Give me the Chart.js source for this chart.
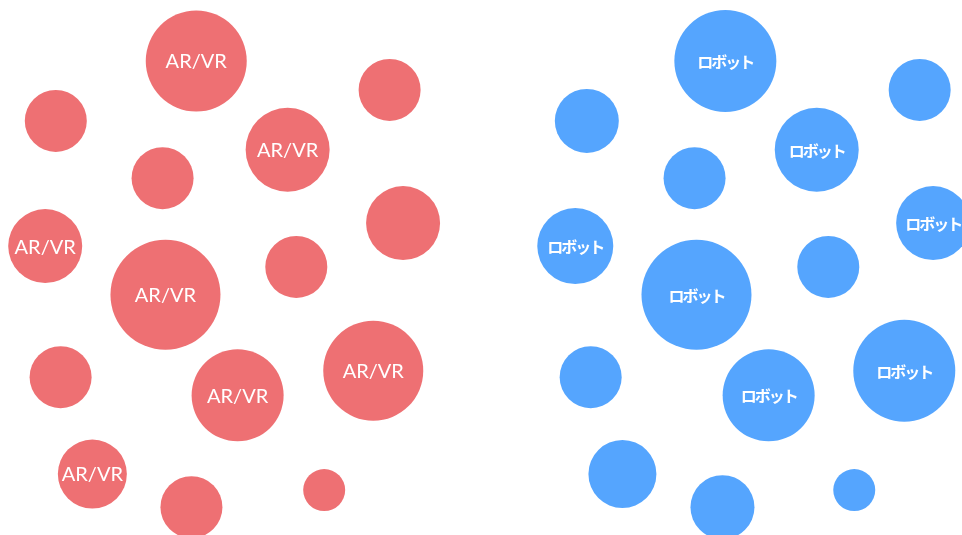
<!DOCTYPE html>
<html>
<head>
<meta charset="utf-8">
<script src="https://cdn.jsdelivr.net/npm/chart.js@4/dist/chart.umd.min.js"></script>
<style>
  html, body { margin: 0; padding: 0; background: #fff; }
  #wrap { width: 962px; height: 535px; }
</style>
</head>
<body>
<div id="wrap"><canvas id="myChart"></canvas></div>
<script>
// AR/VR cluster
var arvrX = [20.4, 40.5, 5.8, 29.9, 16.9, 41.9, 4.7, 30.8, 17.2, 38.8, 6.3, 24.7, 9.6, 19.9, 33.7];
var arvrY = [88.6, 83.2, 77.4, 72.0, 66.7, 58.3, 54.0, 50.1, 44.9, 30.7, 29.5, 26.1, 11.4, 5.2, 8.4];
var arvrR = [50.5, 31, 31, 42, 31, 37, 37, 31, 55, 50, 31, 46, 34.5, 31, 21];
var arvrShow = [1, 0, 0, 1, 0, 0, 1, 0, 1, 1, 0, 1, 1, 0, 0];

// robot cluster
var robotX = [75.4, 95.6, 61.0, 84.9, 72.2, 97.0, 59.8, 86.1, 72.4, 94.0, 61.4, 79.9, 64.7, 75.1, 88.8];
var robotY = [88.6, 83.2, 77.4, 72.0, 66.7, 58.3, 54.0, 50.1, 44.9, 30.7, 29.5, 26.1, 11.4, 5.2, 8.4];
var robotR = [51, 31, 32, 42, 31, 37, 38, 31, 55, 51, 31, 46, 34, 32, 21];
var robotShow = [1, 0, 0, 1, 0, 1, 1, 0, 1, 1, 0, 1, 0, 0, 0];

var labels = ['AR/VR', 'ロボット'];

function points(xs, ys, rs) {
    return xs.map(function (x, i) { return { x: x, y: ys[i], r: rs[i] }; });
}

// write the category name inside the flagged bubbles
var bubbleText = {
    id: 'bubbleText',
    afterDatasetsDraw: function (chart) {
        var ctx = chart.ctx;
        chart.data.datasets.forEach(function (ds, di) {
            var meta = chart.getDatasetMeta(di);
            ctx.save();
            ctx.fillStyle = '#ffffff';
            ctx.textAlign = 'center';
            ctx.textBaseline = 'middle';
            ctx.font = ds.textFont;
            ctx.letterSpacing = ds.textSpacing;
            meta.data.forEach(function (el, i) {
                if (!ds.showText[i]) return;
                ctx.fillText(ds.label, el.x, el.y + 1);
            });
            ctx.restore();
        });
    }
};

var ctx = document.getElementById('myChart').getContext('2d');
new Chart(ctx, {
    type: 'bubble',
    data: {
        datasets: [
            {
                label: labels[0],
                data: points(arvrX, arvrY, arvrR),
                backgroundColor: '#ee7073',
                borderWidth: 0,
                clip: false,
                showText: arvrShow,
                textFont: '20px Lato',
                textSpacing: '0px'
            },
            {
                label: labels[1],
                data: points(robotX, robotY, robotR),
                backgroundColor: '#55a5fe',
                borderWidth: 0,
                clip: false,
                showText: robotShow,
                textFont: 'bold 16px "Noto Sans CJK JP"',
                textSpacing: '-2px'
            }
        ]
    },
    options: {
        responsive: true,
        maintainAspectRatio: false,
        animation: false,
        layout: { padding: 0, autoPadding: false },
        plugins: {
            legend: { display: false },
            tooltip: { enabled: false }
        },
        scales: {
            x: { type: 'linear', min: 0, max: 100, display: false },
            y: { type: 'linear', min: 0, max: 100, display: false }
        }
    },
    plugins: [bubbleText]
});
</script>
</body>
</html>
